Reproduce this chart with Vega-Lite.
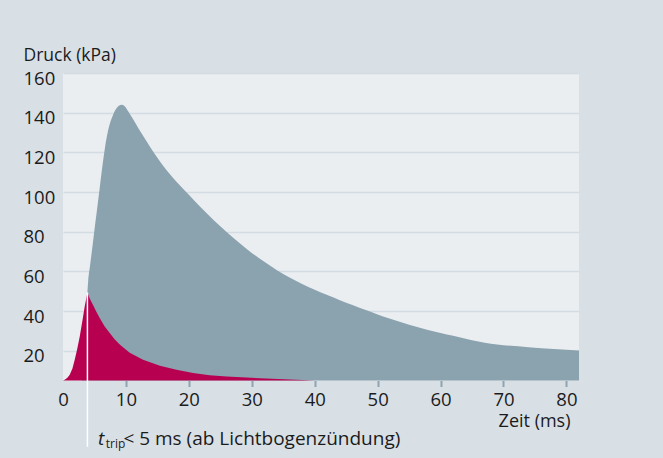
{
  "$schema": "https://vega.github.io/schema/vega-lite/v6.json",
  "width": 516,
  "height": 307.5,
  "autosize": {"type": "none"},
  "padding": {"left": 63, "top": 73, "right": 84, "bottom": 77},
  "background": "#d8e0e6",
  "view": {"fill": "#eaeef1", "stroke": null},
  "config": {"font": "Open Sans"},
  "datasets": {
    "gesamt": [
      {"t": 3.0, "p": 5}, {"t": 3.88, "p": 49.4}, {"t": 4.0, "p": 55}, {"t": 4.3, "p": 63},
      {"t": 4.7, "p": 73}, {"t": 5.0, "p": 81}, {"t": 5.4, "p": 91}, {"t": 5.85, "p": 102.5},
      {"t": 6.3, "p": 114}, {"t": 6.7, "p": 123}, {"t": 7.2, "p": 131.5}, {"t": 7.9, "p": 138.5},
      {"t": 8.6, "p": 142.6}, {"t": 9.3, "p": 144}, {"t": 9.8, "p": 143.3}, {"t": 10.4, "p": 140.5},
      {"t": 11, "p": 137.4}, {"t": 12, "p": 132}, {"t": 13, "p": 127}, {"t": 14, "p": 122},
      {"t": 15, "p": 117.3}, {"t": 16, "p": 112.9}, {"t": 18, "p": 105.3}, {"t": 20, "p": 98.6},
      {"t": 22, "p": 91.9}, {"t": 24, "p": 85.6}, {"t": 26, "p": 79.9}, {"t": 28, "p": 74.4},
      {"t": 30, "p": 69.3}, {"t": 32, "p": 64.8}, {"t": 34, "p": 60.6}, {"t": 36, "p": 56.9},
      {"t": 38, "p": 53.7}, {"t": 40, "p": 50.8}, {"t": 42, "p": 48.1}, {"t": 44, "p": 45.5},
      {"t": 46, "p": 43.0}, {"t": 48, "p": 40.6}, {"t": 50, "p": 38.3}, {"t": 52, "p": 36.1},
      {"t": 54, "p": 34.1}, {"t": 56, "p": 32.2}, {"t": 58, "p": 30.5}, {"t": 60, "p": 29.0},
      {"t": 62, "p": 27.5}, {"t": 64, "p": 26.0}, {"t": 66, "p": 24.6}, {"t": 68, "p": 23.5},
      {"t": 70, "p": 22.8}, {"t": 74, "p": 21.8}, {"t": 78, "p": 20.9}, {"t": 82, "p": 20.1}
    ],
    "trip": [
      {"t": 0, "p": 5}, {"t": 0.27, "p": 5.4}, {"t": 0.7, "p": 6.4}, {"t": 1.07, "p": 7.9},
      {"t": 1.5, "p": 11}, {"t": 1.86, "p": 15.5}, {"t": 2.25, "p": 20.8}, {"t": 2.66, "p": 27.2},
      {"t": 3.05, "p": 34.5}, {"t": 3.45, "p": 42.3}, {"t": 3.88, "p": 49.4}, {"t": 4.3, "p": 46},
      {"t": 4.77, "p": 43.0}, {"t": 5.3, "p": 39.6}, {"t": 5.83, "p": 36.5}, {"t": 6.6, "p": 32.4},
      {"t": 7.42, "p": 28.9}, {"t": 8.2, "p": 25.8}, {"t": 9.01, "p": 23.2}, {"t": 10.6, "p": 19.0},
      {"t": 12.72, "p": 15.4}, {"t": 15.4, "p": 12.4}, {"t": 18.03, "p": 10.4}, {"t": 20.67, "p": 8.8},
      {"t": 23.3, "p": 7.7}, {"t": 25.98, "p": 7.0}, {"t": 31.3, "p": 6.1}, {"t": 36, "p": 5.5},
      {"t": 40, "p": 5}
    ],
    "annotation": [
      {"t": 3.88, "p_top": 49.4, "p_bottom": -28.4, "p_text": -24.4}
    ]
  },
  "layer": [
    {
      "data": {"name": "gesamt"},
      "mark": {"type": "area", "color": "#8ba2af", "interpolate": "monotone"},
      "encoding": {
        "x": {
          "field": "t", "type": "quantitative",
          "scale": {"domain": [0, 82], "nice": false, "zero": false},
          "axis": {
            "values": [0, 5, 10, 15, 20, 25, 30, 35, 40, 45, 50, 55, 60, 65, 70, 75, 80],
            "labelExpr": "datum.value % 10 == 0 ? datum.label : ''",
            "tickOpacity": {"condition": {"test": "datum.value == 0", "value": 0}, "value": 1},
            "domain": false,
            "grid": false,
            "tickColor": "#8fa3b0",
            "tickWidth": 2,
            "tickSize": 6,
            "labelPadding": 4,
            "labelFontSize": 18.5,
            "labelColor": "#1b1b1b",
            "labelFlush": false,
            "title": "Zeit (ms)",
            "titleFontSize": 18,
            "titleFontWeight": "normal",
            "titleColor": "#1b1b1b",
            "titleAlign": "right",
            "titleAnchor": null,
            "titleBaseline": "middle",
            "titleX": 507,
            "titleY": 41
          }
        },
        "y": {
          "field": "p", "type": "quantitative",
          "scale": {"domain": [5, 160], "nice": false, "zero": false},
          "axis": {
            "values": [20, 40, 60, 80, 100, 120, 140, 160],
            "domain": false,
            "ticks": false,
            "grid": true,
            "gridColor": "#d3dce3",
            "gridWidth": 1.5,
            "labelAlign": "left",
            "labelBaseline": "middle",
            "labelPadding": 40,
            "labelOffset": 5,
            "labelFontSize": 18.5,
            "labelColor": "#1b1b1b",
            "labelFlush": false,
            "title": "Druck (kPa)",
            "titleAngle": 0,
            "titleAlign": "left",
            "titleAnchor": null,
            "titleBaseline": "middle",
            "titleX": -40,
            "titleY": -17.5,
            "titleFontSize": 17.5,
            "titleFontWeight": "normal",
            "titleColor": "#1b1b1b"
          }
        },
        "y2": {"datum": 5}
      }
    },
    {
      "data": {"name": "trip"},
      "mark": {"type": "area", "color": "#b80050", "interpolate": "linear"},
      "encoding": {
        "x": {"field": "t", "type": "quantitative"},
        "y": {"field": "p", "type": "quantitative"},
        "y2": {"datum": 5}
      }
    },
    {
      "data": {"name": "annotation"},
      "mark": {"type": "rule", "color": "#ffffff", "strokeWidth": 1.5, "clip": false},
      "encoding": {
        "x": {"field": "t", "type": "quantitative"},
        "y": {"field": "p_top", "type": "quantitative"},
        "y2": {"field": "p_bottom"}
      }
    },
    {
      "data": {"name": "annotation"},
      "mark": {"type": "text", "text": "t", "fontStyle": "italic", "fontSize": 19, "align": "left", "baseline": "middle", "dx": 10.5, "color": "#1b1b1b", "clip": false},
      "encoding": {
        "x": {"field": "t", "type": "quantitative"},
        "y": {"field": "p_text", "type": "quantitative"}
      }
    },
    {
      "data": {"name": "annotation"},
      "mark": {"type": "text", "text": "trip", "fontSize": 12, "align": "left", "baseline": "middle", "dx": 18.3, "dy": 5, "color": "#1b1b1b", "clip": false},
      "encoding": {
        "x": {"field": "t", "type": "quantitative"},
        "y": {"field": "p_text", "type": "quantitative"}
      }
    },
    {
      "data": {"name": "annotation"},
      "mark": {"type": "text", "text": "< 5 ms (ab Lichtbogenzündung)", "fontSize": 19, "align": "left", "baseline": "middle", "dx": 36, "color": "#1b1b1b", "clip": false},
      "encoding": {
        "x": {"field": "t", "type": "quantitative"},
        "y": {"field": "p_text", "type": "quantitative"}
      }
    }
  ]
}
